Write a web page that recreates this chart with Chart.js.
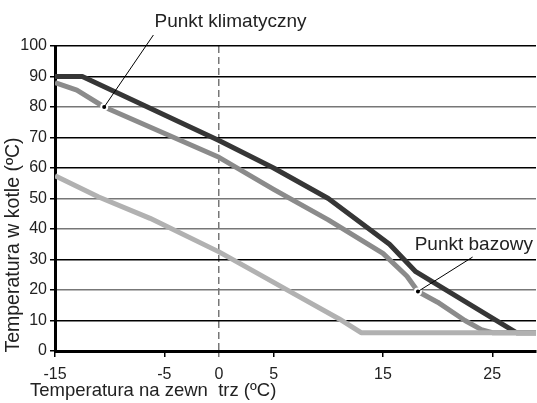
<!DOCTYPE html>
<html>
<head>
<meta charset="utf-8">
<script src="https://cdn.jsdelivr.net/npm/chart.js@4"></script>
<style>
  html, body { margin: 0; padding: 0; background: #fff; }
  #wrap { width: 537px; height: 403px; overflow: hidden; }
</style>
</head>
<body>
<div id="wrap"><canvas id="chart" width="542" height="403"></canvas></div>
<script>
const xTicks = [-15, -5, 0, 5, 15, 25];

// upper curve (dark)
const darkX = [-15, -12.5, 0, 5, 10, 13, 15.6, 18, 27.2, 29];
const darkY = [90, 90, 69, 60, 50, 42, 35, 26, 6, 6];

// middle curve (grey)
const midX = [-15, -13, -10.5, 0, 5, 10, 15, 17.2, 18.2, 20, 22.5, 24, 25, 29];
const midY = [88, 85.5, 80, 63.5, 53, 43, 32, 24.5, 19.5, 16, 10, 7, 6, 6];

// lower curve (light grey)
const lowX = [-15, -11, -6.3, 0, 3, 7, 11, 13, 29];
const lowY = [57.5, 50.5, 43.5, 32.5, 26.5, 18.5, 10.5, 6, 6];

// marked points and their labels
const markX = [-10.5, 18.2];
const markY = [80, 19.5];
const markLabels = ['Punkt klimatyczny', 'Punkt bazowy'];
const labelX = [-5.9, 17.9];
const labelY = [107.8, 34.8];
const leaderX = [-6.0, 23.2];
const leaderY = [103.6, 30.8];

const xTitle = 'Temperatura na zewn  trz (ºC)';
const yTitle = 'Temperatura w kotle (ºC)';

const FONT = "'Liberation Sans', Arial, sans-serif";
const grayGrid = [20, 40, 50, 80];

function pts(xs, ys) {
  return xs.map((x, i) => ({ x: x, y: ys[i] }));
}

const annotate = {
  id: 'annotate',
  afterDatasetsDraw(chart) {
    const c = chart.ctx;
    const xs = chart.scales.x, ys = chart.scales.y;
    c.save();
    c.strokeStyle = '#000';
    c.lineWidth = 1;
    for (let i = 0; i < markX.length; i++) {
      c.beginPath();
      c.moveTo(xs.getPixelForValue(leaderX[i]), ys.getPixelForValue(leaderY[i]));
      c.lineTo(xs.getPixelForValue(markX[i]), ys.getPixelForValue(markY[i]));
      c.stroke();
    }
    c.fillStyle = '#222';
    c.font = '19px ' + FONT;
    c.textBaseline = 'middle';
    c.textAlign = 'left';
    for (let i = 0; i < markLabels.length; i++) {
      c.fillText(markLabels[i], xs.getPixelForValue(labelX[i]), ys.getPixelForValue(labelY[i]));
    }
    // axis titles
    c.font = '18.5px ' + FONT;
    c.fillText(xTitle, 30, 391);
    c.translate(14, 245);
    c.rotate(-Math.PI / 2);
    c.textAlign = 'center';
    c.font = '19.5px ' + FONT;
    c.fillText(yTitle, 0, 0);
    c.restore();
  }
};

new Chart(document.getElementById('chart'), {
  type: 'line',
  data: {
    datasets: [
      {
        type: 'scatter', data: pts(markX, markY), pointRadius: 3, pointBackgroundColor: '#000',
        pointBorderColor: '#fff', pointBorderWidth: 2, showLine: false, order: 0
      },
      { data: pts(lowX, lowY), borderColor: '#b1b1b1', borderWidth: 5, pointRadius: 0, tension: 0, order: 1 },
      { data: pts(midX, midY), borderColor: '#8b8b8b', borderWidth: 5, pointRadius: 0, tension: 0, order: 2 },
      { data: pts(darkX, darkY), borderColor: '#363636', borderWidth: 5, pointRadius: 0, tension: 0, order: 3 }
    ]
  },
  options: {
    responsive: false,
    animation: false,
    layout: { padding: { top: 46, right: 0, left: 0, bottom: 0 } },
    plugins: { legend: { display: false }, tooltip: { enabled: false } },
    elements: { line: { borderJoinStyle: 'round', borderCapStyle: 'butt' } },
    scales: {
      x: {
        type: 'linear', min: -15, max: 29,
        afterBuildTicks: s => { s.ticks = xTicks.map(v => ({ value: v })); },
        afterFit: s => { s.height = 52; s.paddingLeft = 0; s.paddingRight = 0; },
        border: { color: '#000', width: 3, dash: [7, 4] },
        grid: {
          color: c => (c.tick && c.tick.value === 0 ? '#777' : 'rgba(0,0,0,0)'),
          tickColor: c => (c.tick && c.tick.value === 0 ? '#777' : '#000'),
          lineWidth: 1.5, tickBorderDash: [7, 4], tickLength: 6
        },
        ticks: { color: '#222', font: { family: FONT, size: 16 }, padding: 8, maxRotation: 0 }
      },
      y: {
        min: 0, max: 100,
        afterFit: s => { s.width = 55; },
        border: { color: '#000', width: 3 },
        grid: {
          color: c => (grayGrid.includes(c.tick.value) ? '#777' : '#000'),
          tickColor: '#000',
          lineWidth: 1.5, tickLength: 5
        },
        ticks: { stepSize: 10, color: '#222', font: { family: FONT, size: 16 }, padding: 3 }
      }
    }
  },
  plugins: [annotate]
});
</script>
</body>
</html>
